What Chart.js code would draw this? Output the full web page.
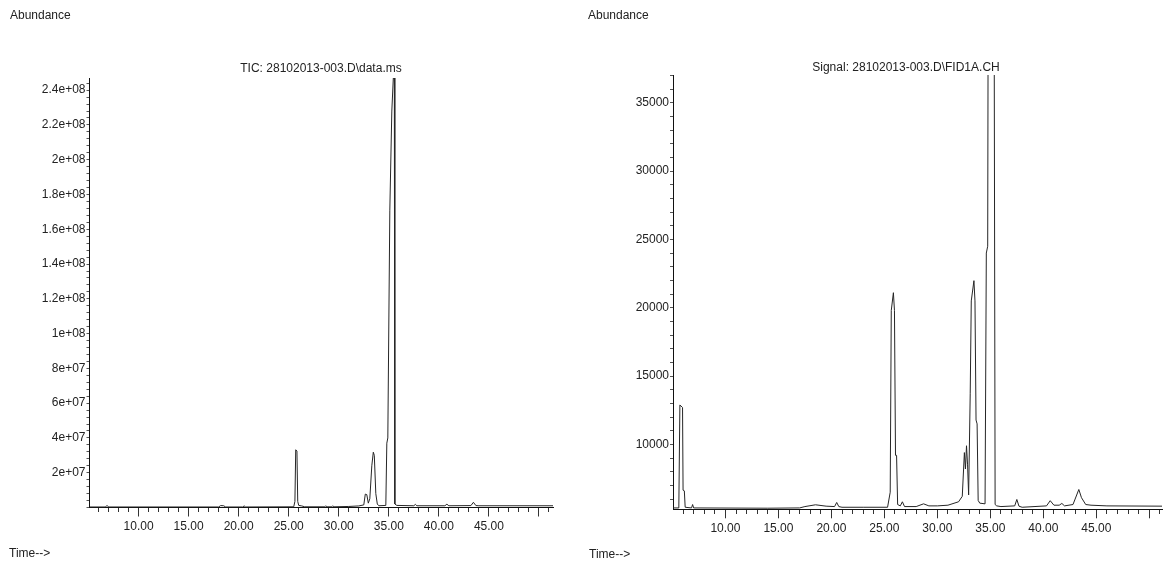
<!DOCTYPE html>
<html>
<head>
<meta charset="utf-8">
<script src="https://cdn.jsdelivr.net/npm/chart.js@4.4.0/dist/chart.umd.min.js"></script>
<style>
  body { margin: 0; background: #fff; width: 1163px; height: 567px; overflow: hidden; position: relative; }
  canvas { position: absolute; top: 0; }
  .lbl { position: absolute; font: 12px 'Liberation Sans', Arial, sans-serif; color: #222; white-space: nowrap; line-height: 14px; }
  .ttl { transform: translateX(-50%); }
</style>
</head>
<body>
<canvas id="tic" width="580" height="567" style="left:0"></canvas>
<canvas id="fid" width="583" height="567" style="left:580px"></canvas>

<div class="lbl" style="left:10px; top:8px">Abundance</div>
<div class="lbl" style="left:588px; top:8px">Abundance</div>
<div class="lbl ttl" style="left:321px; top:61px">TIC: 28102013-003.D\data.ms</div>
<div class="lbl ttl" style="left:906px; top:60px">Signal: 28102013-003.D\FID1A.CH</div>
<div class="lbl" style="left:9px; top:546px">Time--&gt;</div>
<div class="lbl" style="left:589px; top:547px">Time--&gt;</div>

<script>
// time axis labels (min), same on both charts
const timeLabels = [10, 15, 20, 25, 30, 35, 40, 45];

// TIC trace
const ticTimes = [5.1, 6.7, 6.85, 7.0, 18.0, 18.2, 18.5, 18.7, 20.4, 20.55, 20.7,
  25.5, 25.62, 25.7, 25.82, 25.9, 26.0, 26.3, 26.6, 28.6, 28.7, 28.8, 29.3, 29.4, 29.5,
  31.0, 32.0, 32.5, 32.65, 32.8, 32.95, 33.1, 33.3, 33.45, 33.55, 33.7, 33.85, 34.0,
  34.7, 34.8, 34.9, 35.1, 35.3, 35.45, 35.55, 35.6, 35.8, 37.5, 37.65, 37.8,
  40.6, 40.8, 41.0, 43.2, 43.45, 43.7, 44.0, 51.4];
const ticAbundance = [3e5, 3e5, 1.2e6, 3e5, 3e5, 1.1e6, 1.0e6, 3e5, 3e5, 9e5, 3e5,
  4e5, 3.5e6, 33.2e6, 32.5e6, 3.5e6, 1.2e6, 9e5, 4e5, 4e5, 1.0e6, 4e5, 4e5, 1.0e6, 4e5,
  6e5, 9e5, 1.5e6, 7.7e6, 7.4e6, 2.5e6, 5e6, 24e6, 31.8e6, 30e6, 8e6, 2e6, 1e6,
  1.2e6, 37e6, 40e6, 171e6, 228e6, 247e6, 247e6, 2e6, 1.2e6, 1.0e6, 1.8e6, 1.0e6,
  1.0e6, 1.9e6, 1.0e6, 1.1e6, 3.0e6, 1.1e6, 1.0e6, 1.0e6];
const ticYLabels = [2e7, 4e7, 6e7, 8e7, 1e8, 1.2e8, 1.4e8, 1.6e8, 1.8e8, 2e8, 2.2e8, 2.4e8];

// FID signal
const fidTimes = [5.05, 5.6, 5.7, 5.95, 6.0, 6.12, 6.2, 6.8, 6.9, 7.0, 14.0, 17.0, 17.5,
  18.5, 19.5, 20.3, 20.5, 20.7, 21.0, 23.0, 25.3, 25.55, 25.65, 25.85, 25.95, 26.05,
  26.15, 26.25, 26.5, 26.7, 26.9, 28.0, 28.7, 29.2, 30.0, 31.0, 32.0, 32.35, 32.55,
  32.65, 32.75, 32.85, 32.95, 33.1, 33.2, 33.45, 33.55, 33.65, 33.75, 33.85, 34.0,
  34.5, 34.62, 34.75, 34.8, 35.35, 35.45, 35.6, 36.0, 37.3, 37.5, 37.7, 38.0, 40.3,
  40.65, 41.0, 41.5, 41.75, 42.0, 42.8, 43.0, 43.35, 43.6, 44.0, 44.5, 46.0, 51.2];
const fidSignal = [5350, 5350, 12880, 12700, 6650, 6600, 5400, 5350, 5600, 5350, 5330,
  5350, 5450, 5580, 5480, 5450, 5750, 5450, 5400, 5400, 5400, 6500, 19800, 21100, 19800,
  9200, 9200, 5600, 5500, 5800, 5450, 5450, 5650, 5500, 5500, 5550, 5800, 6200, 9400,
  8200, 9900, 8500, 6300, 13700, 20500, 21980, 20500, 11780, 11500, 5900, 5700, 5650,
  24000, 24500, 45000, 45000, 5600, 5500, 5450, 5500, 5970, 5480, 5400, 5500, 5880,
  5550, 5550, 5680, 5500, 5600, 6000, 6700, 6100, 5600, 5550, 5500, 5480];
const fidYLabels = [10000, 15000, 20000, 25000, 30000, 35000];

const font = { family: "'Liberation Sans', Arial, sans-serif", size: 12 };

// 2.4e+08 style labels
function expLabel(v) {
  const parts = v.toExponential().split('e');
  return parts[0] + 'e' + parts[1][0] + parts[1].slice(1).padStart(2, '0');
}

// Chart.js stretches the step when min/max are odd, so lay the ticks out by hand
function evenTicks(step) {
  return function (scale) {
    const out = [];
    for (let i = Math.ceil(scale.min / step); i * step <= scale.max; i++) out.push({ value: i * step });
    scale.ticks = out;
  };
}

function drawTrace(id, times, values, o) {
  const points = times.map((t, i) => ({ x: t, y: values[i] }));
  return new Chart(document.getElementById(id), {
    type: 'line',
    data: {
      datasets: [{
        data: points,
        borderColor: '#262626',
        borderWidth: 1,
        pointRadius: 0,
        tension: 0,
        fill: false
      }]
    },
    options: {
      responsive: false,
      animation: false,
      events: [],
      layout: { padding: o.padding },
      plugins: { legend: { display: false }, tooltip: { enabled: false } },
      scales: {
        x: {
          type: 'linear',
          min: o.xMin,
          max: o.xMax,
          afterBuildTicks: evenTicks(1),
          afterFit: s => { s.height = 30; },
          border: { display: true, color: '#111', width: 1 },
          grid: {
            drawOnChartArea: false,
            drawTicks: true,
            tickLength: 9,
            color: '#333',
            tickBorderDash: ctx => (ctx.tick && ctx.tick.value % 5 === 0) ? [] : [4, 40]
          },
          ticks: {
            autoSkip: false,
            maxRotation: 0,
            minRotation: 0,
            padding: 3,
            color: '#222',
            font: font,
            callback: v => timeLabels.includes(v) ? v.toFixed(2) : ''
          }
        },
        y: {
          min: o.yMin,
          max: o.yMax,
          afterBuildTicks: evenTicks(o.yStep),
          afterFit: s => { s.width = o.yWidth; },
          border: { display: true, color: '#111', width: 1 },
          grid: { drawOnChartArea: false, drawTicks: true, tickLength: 3, color: '#555' },
          ticks: {
            autoSkip: false,
            padding: 1,
            color: '#222',
            font: font,
            callback: v => o.yLabels.includes(v) ? o.fmt(v) : ''
          }
        }
      }
    }
  });
}

drawTrace('tic', ticTimes, ticAbundance, {
  xMin: 5.1, xMax: 51.4,
  yMin: 0, yMax: 2.47e8, yStep: 4e6,
  yLabels: ticYLabels, fmt: expLabel,
  yWidth: 89.5,
  padding: { left: 0, top: 78, right: 27, bottom: 29.5 }
});

drawTrace('fid', fidTimes, fidSignal, {
  xMin: 5.05, xMax: 51.2,
  yMin: 5250, yMax: 37030, yStep: 1000,
  yLabels: fidYLabels, fmt: v => String(v),
  yWidth: 93,
  padding: { left: 0, top: 75, right: 1, bottom: 27.7 }
});
</script>
</body>
</html>
